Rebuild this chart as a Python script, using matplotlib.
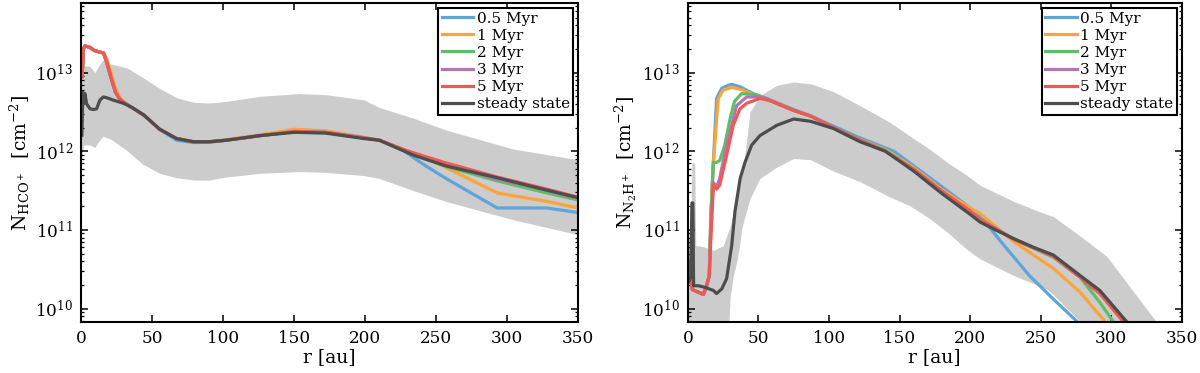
import numpy as np
import matplotlib
matplotlib.use("Agg")
import matplotlib.pyplot as plt

plt.rcParams['font.family'] = ['DejaVu Serif']
plt.rcParams['mathtext.fontset'] = 'dejavuserif'

labels = ['0.5 Myr', '1 Myr', '2 Myr', '3 Myr', '5 Myr', 'steady state']
colors = ['#5DA5DA', '#FAA43A', '#60BD68', '#B276B2', '#F15854', '#4D4D4D']

# ---------------- HCO+ (left) ----------------
# shared radius grid for the time-dependent runs
r_hco = [0.5, 1.3, 2.5, 6, 9, 13, 15.5, 17.8, 19.5, 21.5, 24, 27, 30, 35, 44, 55,
         67, 79, 90, 102, 126, 150, 172, 199, 210, 227, 241, 257, 293, 328, 350]
hco_05 = [8.9e12, 2.0e13, 2.19e13, 2.09e13, 1.91e13, 1.82e13, 1.78e13, 1.35e13, 1.05e13, 7.8e12,
          5.6e12, 4.6e12, 4.17e12, 3.63e12, 2.88e12, 1.9e12, 1.38e12, 1.29e12, 1.3e12, 1.38e12,
          1.6e12, 1.82e12, 1.78e12, 1.5e12, 1.38e12, 1.02e12, 6.8e11, 4.5e11, 1.9e11, 1.9e11, 1.66e11]
hco_1 = [8.9e12, 2.0e13, 2.19e13, 2.09e13, 1.91e13, 1.82e13, 1.78e13, 1.51e13, 1.2e13, 9.1e12,
         6.3e12, 4.8e12, 4.2e12, 3.63e12, 2.88e12, 1.91e12, 1.45e12, 1.32e12, 1.32e12, 1.4e12,
         1.62e12, 1.9e12, 1.82e12, 1.5e12, 1.38e12, 1.05e12, 8.5e11, 6.2e11, 2.95e11, 2.3e11, 1.9e11]
hco_2 = [8.9e12, 2.0e13, 2.19e13, 2.09e13, 1.91e13, 1.82e13, 1.78e13, 1.35e13, 1.05e13, 7.8e12,
         5.6e12, 4.6e12, 4.17e12, 3.63e12, 2.88e12, 1.91e12, 1.45e12, 1.32e12, 1.32e12, 1.38e12,
         1.58e12, 1.78e12, 1.74e12, 1.48e12, 1.38e12, 1.03e12, 8.3e11, 6.4e11, 4.2e11, 2.95e11, 2.4e11]
hco_3 = [8.9e12, 2.0e13, 2.19e13, 2.09e13, 1.91e13, 1.82e13, 1.78e13, 1.35e13, 1.05e13, 7.8e12,
         5.6e12, 4.6e12, 4.17e12, 3.63e12, 2.88e12, 1.91e12, 1.45e12, 1.32e12, 1.32e12, 1.38e12,
         1.58e12, 1.78e12, 1.74e12, 1.48e12, 1.38e12, 1.05e12, 8.5e11, 6.8e11, 4.4e11, 3.2e11, 2.5e11]
hco_5 = [8.9e12, 2.0e13, 2.19e13, 2.09e13, 1.91e13, 1.82e13, 1.78e13, 1.35e13, 1.05e13, 7.8e12,
         5.6e12, 4.6e12, 4.17e12, 3.63e12, 2.88e12, 1.91e12, 1.45e12, 1.32e12, 1.32e12, 1.38e12,
         1.58e12, 1.78e12, 1.74e12, 1.48e12, 1.38e12, 1.05e12, 8.7e11, 7.1e11, 4.7e11, 3.3e11, 2.6e11]

r_hco_ss = [0.3, 1.0, 1.8, 2.5, 3.6, 6, 8.4, 10.7, 13, 15.4, 17.8, 22.4, 29.5, 35.4, 44, 55,
            67, 79, 90, 102, 126, 150, 172, 199, 210, 234, 257, 293, 328, 350]
hco_ss = [1.6e12, 5.6e12, 4.2e12, 5.4e12, 4.0e12, 3.47e12, 3.39e12, 3.47e12, 4.47e12, 4.9e12,
          4.79e12, 4.47e12, 4.07e12, 3.63e12, 2.88e12, 1.91e12, 1.45e12, 1.32e12, 1.32e12, 1.38e12,
          1.58e12, 1.74e12, 1.7e12, 1.45e12, 1.38e12, 8.9e11, 6.5e11, 4.6e11, 3.2e11, 2.57e11]

r_hco_band = [0, 1.5, 6, 9.5, 12, 15, 20, 32, 43, 55, 67, 79, 90, 102, 126, 153, 172, 199,
              210, 234, 257, 304, 350]
hco_band_hi = [1.6e13, 1.23e13, 1.2e13, 1.0e13, 1.2e13, 1.45e13, 1.29e13, 1.15e13, 8.7e12, 6.3e12,
               4.8e12, 4.2e12, 4.1e12, 4.3e12, 5.0e12, 5.4e12, 5.25e12, 4.5e12, 3.6e12, 2.63e12,
               1.86e12, 1.07e12, 7.8e11]
hco_band_lo = [7.9e11, 1.2e12, 1.2e12, 1.12e12, 1.32e12, 1.55e12, 1.45e12, 1.02e12, 6.9e11, 5.25e11,
               4.6e11, 4.3e11, 4.3e11, 4.7e11, 5.25e11, 5.5e11, 5.4e11, 4.9e11, 4.5e11, 3.16e11,
               2.3e11, 1.35e11, 8.7e10]

# ---------------- N2H+ (right) ----------------
r_n2h_05 = [0.5, 1.4, 3.1, 8.5, 10.9, 13.2, 15.1, 16.3, 18, 20.3, 23.9, 28.6, 31, 37, 46.3, 55.8,
            75, 87, 103, 122, 146, 180, 200, 210, 221, 242, 259, 276, 290]
n2h_05 = [4.0e10, 2.6e10, 1.74e10, 1.58e10, 1.51e10, 1.95e10, 2.6e10, 1.6e11, 7.2e11, 4.7e12,
          6.3e12, 6.9e12, 7.1e12, 6.6e12, 5.4e12, 4.7e12, 3.39e12, 2.82e12, 2.09e12, 1.48e12,
          1.0e12, 3.55e11, 1.9e11, 1.32e11, 7.4e10, 2.63e10, 1.32e10, 6.8e9, 3.5e9]
r_n2h_1 = [0.5, 1.4, 3.1, 8.5, 10.9, 13.2, 15.1, 16.3, 18, 21.5, 25, 31, 39, 48, 56, 75, 87, 103,
           122, 140, 160, 180, 200, 207, 231, 259, 278, 294, 300]
n2h_1 = [4.0e10, 2.6e10, 1.74e10, 1.58e10, 1.51e10, 1.95e10, 2.6e10, 1.6e11, 7.2e11, 4.7e12,
         6.0e12, 6.5e12, 6.0e12, 5.1e12, 4.6e12, 3.3e12, 2.8e12, 2.0e12, 1.41e12, 1.05e12,
         6.2e11, 3.24e11, 1.9e11, 1.62e11, 7.1e10, 3.24e10, 1.62e10, 7.4e9, 5.6e9]
r_n2h_2 = [0.5, 1.4, 3.1, 8.5, 10.9, 13.2, 15.1, 16.3, 18, 20, 22.5, 26, 29.8, 33, 38, 48, 56, 75,
           87, 103, 122, 140, 160, 180, 200, 207, 231, 259, 278, 292, 301.5, 306]
n2h_2 = [4.0e10, 2.6e10, 1.74e10, 1.58e10, 1.51e10, 1.95e10, 2.6e10, 1.6e11, 7.2e11, 7.2e11,
         7.6e11, 1.17e12, 2.57e12, 4.3e12, 5.4e12, 5.25e12, 4.6e12, 3.3e12, 2.8e12, 2.0e12,
         1.41e12, 1.02e12, 5.9e11, 3.1e11, 1.74e11, 1.38e11, 7.6e10, 4.5e10, 2.5e10, 1.2e10, 6.8e9, 5.0e9]
r_n2h_3 = [0.5, 1.4, 3.1, 8.5, 10.9, 13.2, 15.1, 16, 18, 20.3, 22.5, 27, 31, 34.5, 41.6, 50, 56,
           75, 87, 103, 122, 140, 160, 180, 200, 207, 231, 259, 278, 292, 310, 315]
n2h_3 = [4.0e10, 2.6e10, 1.74e10, 1.58e10, 1.51e10, 1.95e10, 2.6e10, 8.0e10, 4.0e11, 3.5e11,
         4.5e11, 1.12e12, 2.14e12, 3.8e12, 4.9e12, 4.9e12, 4.6e12, 3.3e12, 2.8e12, 2.0e12,
         1.38e12, 1.0e12, 5.9e11, 3.1e11, 1.74e11, 1.35e11, 7.6e10, 4.7e10, 2.57e10, 1.62e10, 6.8e9, 5.0e9]
r_n2h_5 = [0.5, 1.4, 3.1, 8.5, 10.9, 13.2, 15.1, 16, 18, 20.3, 22.5, 27.4, 32.1, 36.9, 41.6, 51,
           58, 75, 87, 103, 122, 140, 160, 180, 200, 207, 231, 259, 278, 292, 308.6, 313]
n2h_5 = [4.0e10, 2.6e10, 1.74e10, 1.58e10, 1.51e10, 1.95e10, 2.6e10, 6.3e10, 3.7e11, 3.3e11,
         3.7e11, 8.9e11, 2.14e12, 3.47e12, 4.07e12, 4.7e12, 4.4e12, 3.3e12, 2.8e12, 2.0e12,
         1.38e12, 1.0e12, 5.9e11, 3.1e11, 1.74e11, 1.35e11, 7.6e10, 4.6e10, 2.5e10, 1.55e10, 6.8e9, 5.0e9]
r_n2h_ss = [0.5, 2, 2.8, 3.5, 4.0, 7.3, 12, 18, 20.3, 24, 27.4, 31, 33.3, 37, 40.4, 45.2, 51, 63,
            75, 87, 103, 122, 140, 160, 180, 200, 207, 218, 230.6, 245, 259, 278, 292, 311, 316]
n2h_ss = [2.2e10, 2.5e10, 2.2e11, 2.2e11, 1.95e10, 1.95e10, 1.86e10, 1.7e10, 1.55e10, 1.78e10,
          2.4e10, 6.3e10, 1.7e11, 4.5e11, 7.2e11, 1.2e12, 1.58e12, 2.14e12, 2.57e12, 2.4e12,
          1.95e12, 1.32e12, 1.0e12, 5.6e11, 2.9e11, 1.58e11, 1.26e11, 1.0e11, 7.8e10, 6.0e10,
          4.8e10, 2.63e10, 1.7e10, 6.8e9, 5.0e9]

r_n2h_band = [0, 2, 2.8, 4.8, 5.5, 10, 18, 25, 28, 30, 32, 35, 37, 38, 40, 44, 51, 63, 75, 87, 103,
              122, 143, 157, 171, 184, 198, 207, 231, 254, 259, 276, 297, 332, 345]
n2h_band_hi = [6.3e10, 1.0e11, 7.1e11, 7.1e11, 6.3e10, 6.2e10, 5.5e10, 6.3e10, 8.9e10, 1.12e11,
               1.58e11, 2.8e11, 4.0e11, 5.0e11, 7.9e11, 3.16e12, 5.1e12, 6.9e12, 7.6e12, 7.2e12,
               5.75e12, 3.8e12, 2.34e12, 1.58e12, 1.07e12, 7.2e11, 4.9e11, 3.7e11, 2.3e11, 1.58e11,
               1.48e11, 8.9e10, 4.6e10, 6.8e9, 3.2e9]
n2h_band_lo = [3.2e9, 3.2e9, 3.2e9, 3.2e9, 3.2e9, 3.2e9, 3.2e9, 3.2e9, 3.2e9, 1.45e10, 2.5e10,
               4.3e10, 7.1e10, 1.0e11, 1.41e11, 2.5e11, 4.5e11, 6.3e11, 8.1e11, 7.8e11, 5.6e11,
               4.1e11, 2.63e11, 2.04e11, 1.41e11, 9.3e10, 5.6e10, 4.3e10, 2.63e10, 1.78e10,
               1.51e10, 7.4e9, 3.2e9, 3.2e9, 3.2e9]

fig = plt.figure(figsize=(12, 3.73), dpi=100)
ax1 = fig.add_axes([0.0679, 0.1375, 0.4138, 0.8536])
ax2 = fig.add_axes([0.5733, 0.1375, 0.4114, 0.8536])

panels = [
    (ax1, r_hco_band, hco_band_lo, hco_band_hi,
     [(r_hco, hco_05), (r_hco, hco_1), (r_hco, hco_2), (r_hco, hco_3), (r_hco, hco_5),
      (r_hco_ss, hco_ss)],
     r'$\mathrm{N_{HCO^+}}$  [cm$^{-2}$]'),
    (ax2, r_n2h_band, n2h_band_lo, n2h_band_hi,
     [(r_n2h_05, n2h_05), (r_n2h_1, n2h_1), (r_n2h_2, n2h_2), (r_n2h_3, n2h_3),
      (r_n2h_5, n2h_5), (r_n2h_ss, n2h_ss)],
     r'$\mathrm{N_{N_2H^+}}$  [cm$^{-2}$]'),
]

for ax, rb, lo, hi, series, ylab in panels:
    ax.fill_between(rb, lo, hi, color='0.8', lw=0, zorder=1)
    for (r, v), lab, c in zip(series, labels, colors):
        ax.plot(r, v, color=c, lw=2.3, label=lab, zorder=2)
    ax.set_yscale('log')
    ax.set_xlim(0, 350)
    ax.set_ylim(6.8e9, 7.6e13)
    ax.set_xticks(np.arange(0, 351, 50))
    ax.tick_params(which='both', direction='in', top=True, right=True, labelsize=12.2, pad=6)
    ax.tick_params(which='major', length=4.8, width=1.1)
    ax.tick_params(which='minor', length=2.5, width=0.9)
    for s in ax.spines.values():
        s.set_linewidth(1.5)
    ax.set_xlabel('r [au]', fontsize=13.5, labelpad=1)
    ax.set_ylabel(ylab, fontsize=13.5, labelpad=2)
    leg = ax.legend(loc='upper right', fontsize=11, frameon=True, fancybox=False,
                    framealpha=1, edgecolor='black', handlelength=2.07, handletextpad=0.2,
                    labelspacing=0.2, borderpad=0.25, borderaxespad=0.3)
    leg.get_frame().set_linewidth(1.5)

fig.savefig('out.png', dpi=100)
